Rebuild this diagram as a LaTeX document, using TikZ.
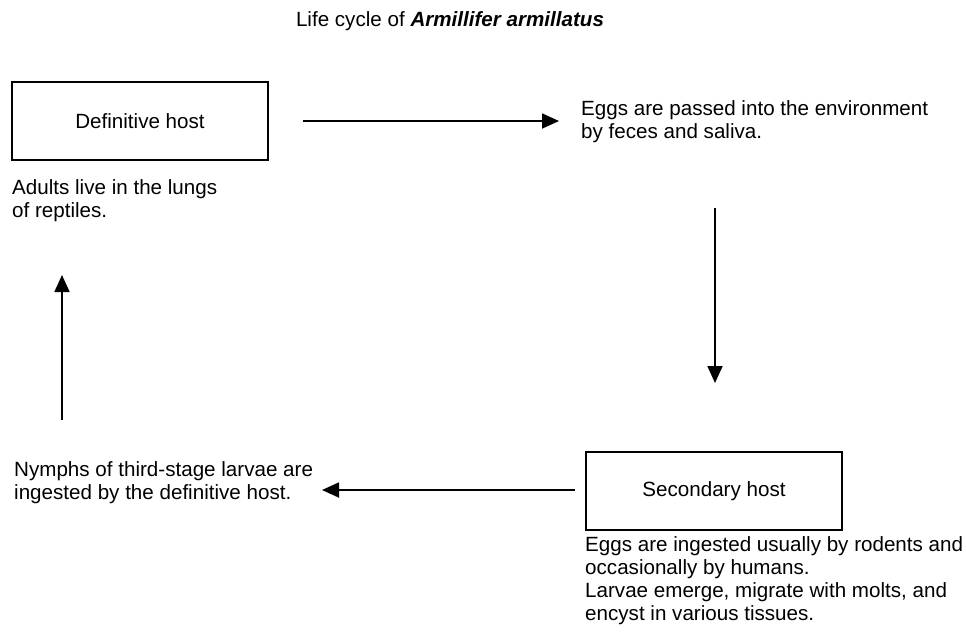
\documentclass[tikz,border=0pt]{standalone}
\usepackage{fontspec}
\setmainfont{Liberation Sans}
\usetikzlibrary{arrows.meta}

\begin{document}
\begin{tikzpicture}[x=1pt,y=-1pt,
            every node/.style={font=\fontsize{20.6}{23}\selectfont},
            host/.style={draw, line width=1.6pt, minimum width=256pt, minimum height=78pt, inner sep=0pt},
            note/.style={anchor=base west, align=left, inner sep=0pt},
            cyc/.style={line width=1.8pt, -{Triangle[length=17pt,width=15pt]}}]
            \useasboundingbox (0,0) rectangle (966,641);
            \node (title) at (450,21) {Life cycle of \textbf{\textit{Armillifer armillatus}}};
            \node[host] (defhost) at (140,121) {Definitive host};
            \node[host] (sechost) at (714,491) {Secondary host};
            % notes are placed by the baseline of their last line
            \node[note] (adults) at (12,217) {Adults live in the lungs\\of reptiles.};
            \node[note] (eggs) at (581,138) {Eggs are passed into the environment\\by feces and saliva.};
            \node[note] (ingest) at (585,620) {Eggs are ingested usually by rodents and\\occasionally by humans.\\Larvae emerge, migrate with molts, and\\encyst in various tissues.};
            \node[note] (nymphs) at (14,499) {Nymphs of third-stage larvae are\\ingested by the definitive host.};
            % arrow ends
            \coordinate (a1) at (303,121);
            \coordinate (b1) at (559,121);
            \coordinate (a2) at (715,208);
            \coordinate (b2) at (715,383);
            \coordinate (a3) at (575,490);
            \coordinate (b3) at (322,490);
            \coordinate (a4) at (62,420);
            \coordinate (b4) at (62,275);
            \draw[cyc] (a1) -- (b1);
            \draw[cyc] (a2) -- (b2);
            \draw[cyc] (a3) -- (b3);
            \draw[cyc] (a4) -- (b4);
        \end{tikzpicture}
\end{document}
